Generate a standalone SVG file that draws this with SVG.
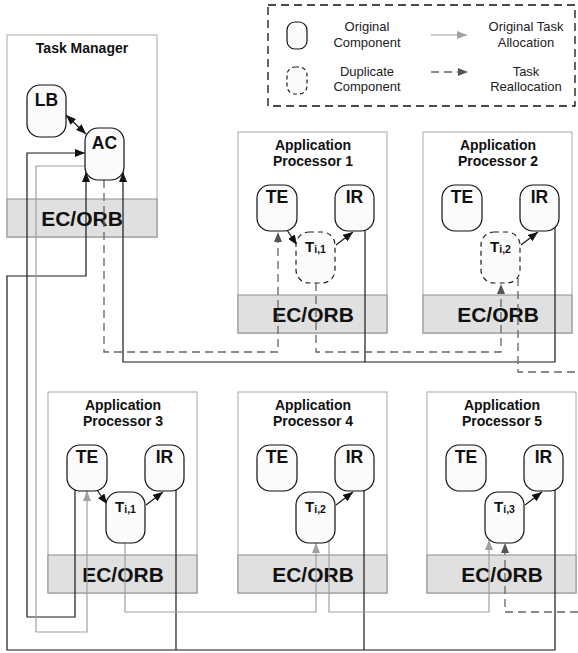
<svg xmlns="http://www.w3.org/2000/svg" width="578" height="653" viewBox="0 0 578 653">
  <style>
    text { font-family: "Liberation Sans", Arial, sans-serif; fill: #111; }
    .title { font-size: 14px; font-weight: bold; text-anchor: middle; }
    .orb { font-size: 21px; font-weight: bold; text-anchor: middle; }
    .lbl { font-size: 17.5px; font-weight: bold; text-anchor: middle; }
    .tsk { font-weight: bold; text-anchor: middle; }
    .leg { font-size: 13px; text-anchor: middle; fill: #222; }
    .box { fill: #ffffff; stroke: #a8a8a8; stroke-width: 1; }
    .band { fill: #e0e0e0; stroke: #8c8c8c; stroke-width: 1; }
    .comp { fill: #fbfbfb; stroke: #111; stroke-width: 1.2; }
    .dup { fill: #fbfbfb; stroke: #222; stroke-width: 1.2; stroke-dasharray: 5 4; }
    .ln-k { fill: none; stroke: #1a1a1a; stroke-width: 1.2; }
    .ln-g { fill: none; stroke: #a0a0a0; stroke-width: 1.2; }
    .ln-d { fill: none; stroke: #666666; stroke-width: 1.3; stroke-dasharray: 8 5; }
    .k-arrow { marker-end: url(#ah-k); }
    .g-arrow { marker-end: url(#ah-g); }
    .d-arrow { marker-end: url(#ah-d); }
  </style>
  <defs>
    <marker id="ah-k" markerUnits="userSpaceOnUse" markerWidth="10" markerHeight="8" refX="10" refY="4" orient="auto-start-reverse">
      <path d="M0,0 L10,4 L0,8 z" fill="#111"/>
    </marker>
    <marker id="ah-g" markerUnits="userSpaceOnUse" markerWidth="10" markerHeight="8" refX="10" refY="4" orient="auto">
      <path d="M0,0 L10,4 L0,8 z" fill="#a0a0a0"/>
    </marker>
    <marker id="ah-d" markerUnits="userSpaceOnUse" markerWidth="10" markerHeight="8" refX="10" refY="4" orient="auto">
      <path d="M0,0 L10,4 L0,8 z" fill="#555555"/>
    </marker>
  </defs>

  <rect x="0" y="0" width="578" height="653" fill="#ffffff"/>

  <!-- legend -->
  <g id="legend">
    <rect x="268" y="5" width="307" height="101" fill="none" stroke="#111" stroke-width="1.3" stroke-dasharray="8 5"/>
    <rect class="comp" x="287" y="22" width="20" height="27" rx="8"/>
    <rect class="dup" x="287" y="67" width="20" height="27" rx="8" style="stroke-dasharray:4 3"/>
    <text class="leg" x="367" y="31">Original</text>
    <text class="leg" x="367" y="47">Component</text>
    <text class="leg" x="367" y="76">Duplicate</text>
    <text class="leg" x="367" y="91">Component</text>
    <path class="ln-g g-arrow" d="M431,35 H467"/>
    <path class="ln-d d-arrow" d="M431,72 H468"/>
    <text class="leg" x="526" y="31">Original Task</text>
    <text class="leg" x="526" y="47">Allocation</text>
    <text class="leg" x="526" y="76">Task</text>
    <text class="leg" x="526" y="91">Reallocation</text>
  </g>

  <!-- host boxes with their EC/ORB layer -->
  <g id="task-manager">
    <rect class="box" x="7" y="35" width="150" height="202"/>
    <rect class="band" x="7" y="199" width="150" height="38"/>
    <text class="title" x="82" y="53">Task Manager</text>
    <text class="orb" x="82" y="226">EC/ORB</text>
  </g>
  <g id="ap1">
    <rect class="box" x="238" y="132" width="149" height="201"/>
    <rect class="band" x="238" y="295" width="149" height="38"/>
    <text class="title" x="313" y="150">Application</text>
    <text class="title" x="313" y="166">Processor 1</text>
    <text class="orb" x="313" y="322">EC/ORB</text>
  </g>
  <g id="ap2">
    <rect class="box" x="423" y="132" width="149" height="201"/>
    <rect class="band" x="423" y="295" width="149" height="38"/>
    <text class="title" x="498" y="150">Application</text>
    <text class="title" x="498" y="166">Processor 2</text>
    <text class="orb" x="498" y="322">EC/ORB</text>
  </g>
  <g id="ap3">
    <rect class="box" x="48" y="392" width="149" height="201"/>
    <rect class="band" x="48" y="555" width="149" height="38"/>
    <text class="title" x="123" y="410">Application</text>
    <text class="title" x="123" y="426">Processor 3</text>
    <text class="orb" x="123" y="582">EC/ORB</text>
  </g>
  <g id="ap4">
    <rect class="box" x="238" y="392" width="149" height="201"/>
    <rect class="band" x="238" y="555" width="149" height="38"/>
    <text class="title" x="313" y="410">Application</text>
    <text class="title" x="313" y="426">Processor 4</text>
    <text class="orb" x="313" y="582">EC/ORB</text>
  </g>
  <g id="ap5">
    <rect class="box" x="427" y="392" width="149" height="201"/>
    <rect class="band" x="427" y="555" width="149" height="38"/>
    <text class="title" x="502" y="410">Application</text>
    <text class="title" x="502" y="426">Processor 5</text>
    <text class="orb" x="502" y="582">EC/ORB</text>
  </g>

  <!-- connectors -->
  <g id="connectors">
    <!-- TE of processor 3 reports to AC -->
    <path class="ln-k k-arrow" d="M75,480 V617 H27 V153 H85"/>
    <!-- IR outputs of the lower row -->
    <path class="ln-k k-arrow" d="M555,480 V650 H7 V276 H86 V172"/>
    <path class="ln-k" d="M176,480 V650"/>
    <path class="ln-k" d="M364,480 V650"/>
    <!-- IR outputs of the upper row -->
    <path class="ln-k k-arrow" d="M555,220 V362 H123 V172"/>
    <path class="ln-k" d="M365,220 V362"/>

    <!-- original allocation -->
    <path class="ln-g g-arrow" d="M92,166 H36 V632 H87 V491"/>
    <path class="ln-g g-arrow" d="M125,530 V612 H316 V543"/>
    <path class="ln-g g-arrow" d="M329,530 V612 H489 V540"/>

    <!-- reallocation -->
    <path class="ln-d d-arrow" d="M104,180 V352 H278 V232"/>
    <path class="ln-d d-arrow" d="M316,283 V352 H501 V284"/>
    <path class="ln-d" d="M518,278 V372 H578"/>
    <path class="ln-d d-arrow" d="M578,612 H505 V543"/>

    <!-- local links inside hosts -->
    <path class="ln-k" d="M66,115 L86,134" style="marker-start:url(#ah-k);marker-end:url(#ah-k)"/>
    <path class="ln-k k-arrow" d="M287,230 L297,245"/>
    <path class="ln-k k-arrow" d="M336,245 L353,232"/>
    <path class="ln-k k-arrow" d="M521,245 L538,232"/>
    <path class="ln-k k-arrow" d="M97,490 L107,504"/>
    <path class="ln-k k-arrow" d="M146,505 L163,492"/>
    <path class="ln-k k-arrow" d="M336,505 L353,492"/>
    <path class="ln-k k-arrow" d="M525,505 L542,492"/>
  </g>

  <!-- task manager components -->
  <g id="lb">
    <rect class="comp" x="27" y="85" width="39" height="52" rx="13"/>
    <text class="lbl" x="46.5" y="106">LB</text>
  </g>
  <g id="ac">
    <rect class="comp" x="85" y="128" width="39" height="52" rx="13"/>
    <text class="lbl" x="104.5" y="149">AC</text>
  </g>

  <!-- processor 1 -->
  <g id="ap1-te">
    <rect class="comp" x="257" y="185" width="40" height="46" rx="13"/>
    <text class="lbl" x="277" y="203">TE</text>
  </g>
  <g id="ap1-ir">
    <rect class="comp" x="335" y="185" width="39" height="46" rx="13"/>
    <text class="lbl" x="354.5" y="203">IR</text>
  </g>
  <g id="ap1-task">
    <rect class="dup" x="296" y="232" width="39" height="51" rx="13"/>
    <text class="tsk" x="315.5" y="252"><tspan font-size="15">T</tspan><tspan font-size="10.5" dy="1">i,1</tspan></text>
  </g>

  <!-- processor 2 -->
  <g id="ap2-te">
    <rect class="comp" x="442" y="185" width="40" height="46" rx="13"/>
    <text class="lbl" x="462" y="203">TE</text>
  </g>
  <g id="ap2-ir">
    <rect class="comp" x="520" y="185" width="39" height="46" rx="13"/>
    <text class="lbl" x="539.5" y="203">IR</text>
  </g>
  <g id="ap2-task">
    <rect class="dup" x="481" y="232" width="39" height="51" rx="13"/>
    <text class="tsk" x="500.5" y="252"><tspan font-size="15">T</tspan><tspan font-size="10.5" dy="1">i,2</tspan></text>
  </g>

  <!-- processor 3 -->
  <g id="ap3-te">
    <rect class="comp" x="67" y="445" width="40" height="46" rx="13"/>
    <text class="lbl" x="87" y="463">TE</text>
  </g>
  <g id="ap3-ir">
    <rect class="comp" x="145" y="445" width="39" height="46" rx="13"/>
    <text class="lbl" x="164.5" y="463">IR</text>
  </g>
  <g id="ap3-task">
    <rect class="comp" x="106" y="492" width="39" height="51" rx="13"/>
    <text class="tsk" x="125.5" y="512"><tspan font-size="15">T</tspan><tspan font-size="10.5" dy="1">i,1</tspan></text>
  </g>

  <!-- processor 4 -->
  <g id="ap4-te">
    <rect class="comp" x="257" y="445" width="40" height="46" rx="13"/>
    <text class="lbl" x="277" y="463">TE</text>
  </g>
  <g id="ap4-ir">
    <rect class="comp" x="335" y="445" width="39" height="46" rx="13"/>
    <text class="lbl" x="354.5" y="463">IR</text>
  </g>
  <g id="ap4-task">
    <rect class="comp" x="296" y="492" width="39" height="51" rx="13"/>
    <text class="tsk" x="315.5" y="512"><tspan font-size="15">T</tspan><tspan font-size="10.5" dy="1">i,2</tspan></text>
  </g>

  <!-- processor 5 -->
  <g id="ap5-te">
    <rect class="comp" x="446" y="445" width="40" height="46" rx="13"/>
    <text class="lbl" x="466" y="463">TE</text>
  </g>
  <g id="ap5-ir">
    <rect class="comp" x="524" y="445" width="39" height="46" rx="13"/>
    <text class="lbl" x="543.5" y="463">IR</text>
  </g>
  <g id="ap5-task">
    <rect class="comp" x="485" y="492" width="39" height="51" rx="13"/>
    <text class="tsk" x="504.5" y="512"><tspan font-size="15">T</tspan><tspan font-size="10.5" dy="1">i,3</tspan></text>
  </g>
</svg>
